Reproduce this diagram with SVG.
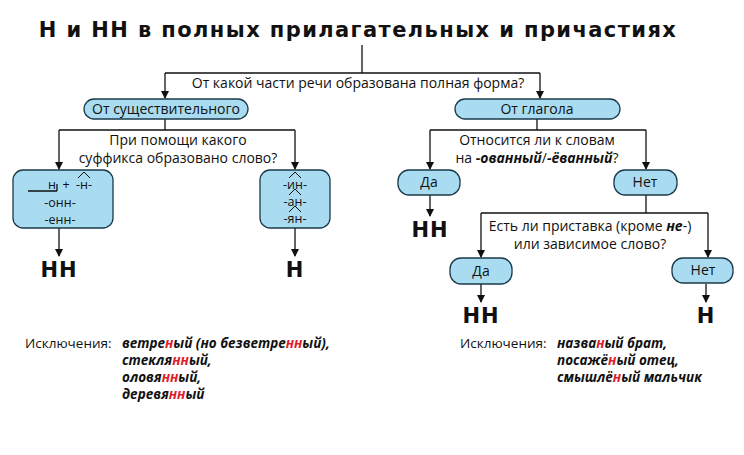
<svg xmlns="http://www.w3.org/2000/svg" width="744" height="455" viewBox="0 0 744 455">
<defs>
<marker id="ar" markerWidth="8" markerHeight="8" refX="7" refY="4" orient="auto" markerUnits="userSpaceOnUse"><path d="M0,0 L8,4 L0,8 Z" fill="#111"/></marker>
</defs>
<style>
text{font-family:"Open Sans","DejaVu Sans",sans-serif;fill:#111}
.t{font-size:14px;text-anchor:middle}
.s{font-size:12.5px;text-anchor:middle}
.pill{fill:#a9dcf0;stroke:#1a3a4a;stroke-width:1.3}
.big{font-size:21px;font-weight:bold;text-anchor:middle;font-family:"DejaVu Sans",sans-serif;letter-spacing:1px}
.ln{stroke:#111;stroke-width:1.3;fill:none}
.cap{stroke:#111;stroke-width:1;fill:none}
.ex{font-size:13.5px}
.bi{font-weight:bold;font-style:italic}
.r{fill:#e0202a}
</style>
<rect width="744" height="455" fill="#fff"/>
<text x="358" y="37" style="font-size:21px;font-weight:bold;text-anchor:middle;font-family:'DejaVu Sans',sans-serif;letter-spacing:1.4px">Н и НН в полных  прилагательных  и причастиях</text>
<g id="connectors" class="ln">
<path d="M362,45 V73 M165,73 H540"/>
<path d="M165,73 V98" marker-end="url(#ar)"/>
<path d="M540,73 V98" marker-end="url(#ar)"/>
<path d="M165,119 V130 M59,130 H295"/>
<path d="M59,130 V169" marker-end="url(#ar)"/>
<path d="M295,130 V169" marker-end="url(#ar)"/>
<path d="M59,228 V256" marker-end="url(#ar)"/>
<path d="M295,228 V256" marker-end="url(#ar)"/>
<path d="M537,119 V130 M430,130 H646"/>
<path d="M430,130 V169" marker-end="url(#ar)"/>
<path d="M646,130 V169" marker-end="url(#ar)"/>
<path d="M430,195 V216" marker-end="url(#ar)"/>
<path d="M646,195 V213 M481,213 H708"/>
<path d="M481,213 V257" marker-end="url(#ar)"/>
<path d="M708,213 V257" marker-end="url(#ar)"/>
<path d="M481,284 V302" marker-end="url(#ar)"/>
<path d="M706,284 V302" marker-end="url(#ar)"/>
</g>
<text class="t" x="358" y="88">От какой части речи образована полная форма?</text>
<text class="t" x="178" y="145">При помощи какого</text>
<text class="t" x="178" y="163">суффикса образовано слово?</text>
<text class="t" x="537" y="145">Относится ли к словам</text>
<text class="t" x="537" y="163">на <tspan class="bi">-ованный</tspan>/<tspan class="bi">-ёванный</tspan>?</text>
<text class="t" x="590" y="231">Есть ли приставка (кроме <tspan class="bi">не</tspan>-)</text>
<text class="t" x="590" y="249">или зависимое слово?</text>
<g id="n-noun"><rect class="pill" x="84" y="99" width="164" height="20" rx="10"/><text class="t" x="166" y="114">От существительного</text></g>
<g id="n-verb"><rect class="pill" x="455" y="99" width="165" height="20" rx="10"/><text class="t" x="537" y="114">От глагола</text></g>
<g id="n-suf1"><rect class="pill" x="13" y="170" width="100" height="58" rx="10"/>
<path class="ln" d="M28,191 H57 M57,184 V191"/>
<text class="s" x="52" y="189">н</text>
<text class="s" x="66" y="189">+</text>
<text class="s" x="84" y="189">-н-</text>
<path class="cap" d="M78,178 L84,172 L90,178"/>
<text class="s" x="60" y="207">-онн-</text>
<text class="s" x="60" y="224">-енн-</text></g>
<g id="n-suf2"><rect class="pill" x="260" y="170" width="70" height="58" rx="10"/>
<path class="cap" d="M289,178 L295,172 L301,178 M289,195 L295,189 L301,195 M289,212 L295,206 L301,212"/>
<text class="s" x="295" y="189">-ин-</text>
<text class="s" x="295" y="206">-ан-</text>
<text class="s" x="295" y="223">-ян-</text></g>
<g id="n-da1"><rect class="pill" x="398" y="170" width="62" height="25" rx="11"/><text class="t" x="429" y="187">Да</text></g>
<g id="n-net1"><rect class="pill" x="614" y="170" width="63" height="25" rx="11"/><text class="t" x="645" y="187">Нет</text></g>
<g id="n-da2"><rect class="pill" x="450" y="258" width="62" height="26" rx="11"/><text class="t" x="481" y="276">Да</text></g>
<g id="n-net2"><rect class="pill" x="672" y="258" width="61" height="25" rx="11"/><text class="t" x="703" y="275">Нет</text></g>
<g id="results">
<text class="big" x="59" y="277">НН</text>
<text class="big" x="295" y="277">Н</text>
<text class="big" x="430" y="237">НН</text>
<text class="big" x="481" y="323">НН</text>
<text class="big" x="706" y="323">Н</text>
</g>
<g id="exceptions" class="ex">
<text x="25" y="348">Исключения:</text>
<text x="122" y="348" class="bi">ветре<tspan class="r">н</tspan>ый (но безветре<tspan class="r">нн</tspan>ый),</text>
<text x="122" y="365" class="bi">стекля<tspan class="r">нн</tspan>ый,</text>
<text x="122" y="382" class="bi">оловя<tspan class="r">нн</tspan>ый,</text>
<text x="122" y="399" class="bi">деревя<tspan class="r">нн</tspan>ый</text>
<text x="460" y="348">Исключения:</text>
<text x="557" y="348" class="bi">назва<tspan class="r">н</tspan>ый брат,</text>
<text x="557" y="365" class="bi">посажё<tspan class="r">н</tspan>ый отец,</text>
<text x="557" y="382" class="bi">смышлё<tspan class="r">н</tspan>ый мальчик</text>
</g>
</svg>
